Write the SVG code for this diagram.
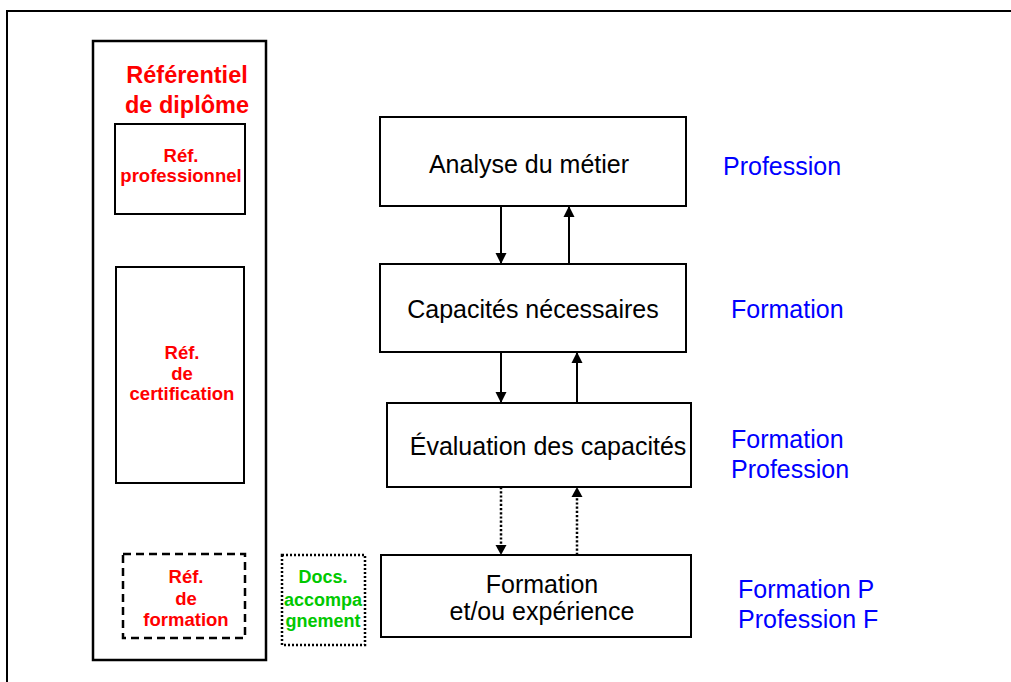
<svg xmlns="http://www.w3.org/2000/svg" width="1011" height="682" viewBox="0 0 1011 682">
<style>
.box{fill:#fff;stroke:#000;stroke-width:2}
.t{font-family:"Liberation Sans",Arial,sans-serif;font-size:25px;fill:#000;text-anchor:middle}
.b{font-family:"Liberation Sans",Arial,sans-serif;font-size:25px;fill:#0000ff}
.r{font-family:"Liberation Sans",Arial,sans-serif;font-size:18.5px;font-weight:bold;fill:#ff0000;text-anchor:middle}
.g{font-family:"Liberation Sans",Arial,sans-serif;font-size:18px;font-weight:bold;fill:#00c800;text-anchor:middle}
.a{stroke:#000;stroke-width:2;fill:none}
.d{stroke:#000;stroke-width:2.5;fill:none;stroke-dasharray:2.2 2}
</style>
<defs>
<marker id="ah" markerUnits="userSpaceOnUse" markerWidth="13" markerHeight="12" refX="11" refY="6" orient="auto">
<path d="M0,0.5 L11,6 L0,11.5 Z" fill="#000"/>
</marker>
</defs>
<rect width="1011" height="682" fill="#fff"/>
<rect id="frame" x="7" y="11" width="1020" height="690" fill="none" stroke="#000" stroke-width="2"/>
<g id="diplome">
<rect x="93" y="41" width="173" height="619" fill="none" stroke="#000" stroke-width="2.5"/>
<text class="r" style="font-size:23.5px" x="187" y="83">Référentiel</text>
<text class="r" style="font-size:23.5px" x="187" y="113">de diplôme</text>
</g>
<g id="ref-pro">
<rect class="box" x="115" y="124" width="130" height="90"/>
<text class="r" x="181" y="162">Réf.</text>
<text class="r" x="181" y="182">professionnel</text>
</g>
<g id="ref-cert">
<rect class="box" x="116" y="267" width="128" height="216"/>
<text class="r" x="182" y="359">Réf.</text>
<text class="r" x="182" y="380">de</text>
<text class="r" x="182" y="400">certification</text>
</g>
<g id="ref-form">
<rect x="123" y="554" width="122" height="84" fill="none" stroke="#000" stroke-width="2.5" stroke-dasharray="8 5"/>
<text class="r" x="186" y="583">Réf.</text>
<text class="r" x="186" y="605">de</text>
<text class="r" x="186" y="626">formation</text>
</g>
<g id="docs">
<rect x="282" y="555" width="83" height="90" fill="none" stroke="#000" stroke-width="2.5" stroke-dasharray="2 2"/>
<text class="g" x="323" y="583">Docs.</text>
<text class="g" x="323" y="606">accompa</text>
<text class="g" x="323" y="627">gnement</text>
</g>
<g id="analyse">
<rect class="box" x="380" y="117" width="306" height="89"/>
<text class="t" x="529" y="173">Analyse du métier</text>
</g>
<g id="capacites">
<rect class="box" x="380" y="264" width="306" height="88"/>
<text class="t" x="533" y="318">Capacités nécessaires</text>
</g>
<g id="evaluation">
<rect class="box" x="387" y="403" width="304" height="84"/>
<text class="t" x="548" y="455">Évaluation des capacités</text>
</g>
<g id="formation">
<rect class="box" x="381" y="555" width="310" height="82"/>
<text class="t" x="542" y="593">Formation</text>
<text class="t" x="542" y="620">et/ou expérience</text>
</g>
<g id="labels">
<text class="b" x="723" y="175">Profession</text>
<text class="b" x="731" y="318">Formation</text>
<text class="b" x="731" y="448">Formation</text>
<text class="b" x="731" y="478">Profession</text>
<text class="b" x="738" y="598">Formation P</text>
<text class="b" x="738" y="628">Profession F</text>
</g>
<g id="connectors">
<line class="a" x1="501" y1="206" x2="501" y2="264" marker-end="url(#ah)"/>
<line class="a" x1="569" y1="264" x2="569" y2="206" marker-end="url(#ah)"/>
<line class="a" x1="501" y1="352" x2="501" y2="403" marker-end="url(#ah)"/>
<line class="a" x1="577" y1="403" x2="577" y2="352" marker-end="url(#ah)"/>
<line class="d" x1="501" y1="487" x2="501" y2="550"/>
<path d="M495.5,545 L506.5,545 L501,555 Z" fill="#000"/>
<line class="d" x1="577" y1="555" x2="577" y2="492"/>
<path d="M571.5,497 L582.5,497 L577,487 Z" fill="#000"/>
</g>
</svg>
